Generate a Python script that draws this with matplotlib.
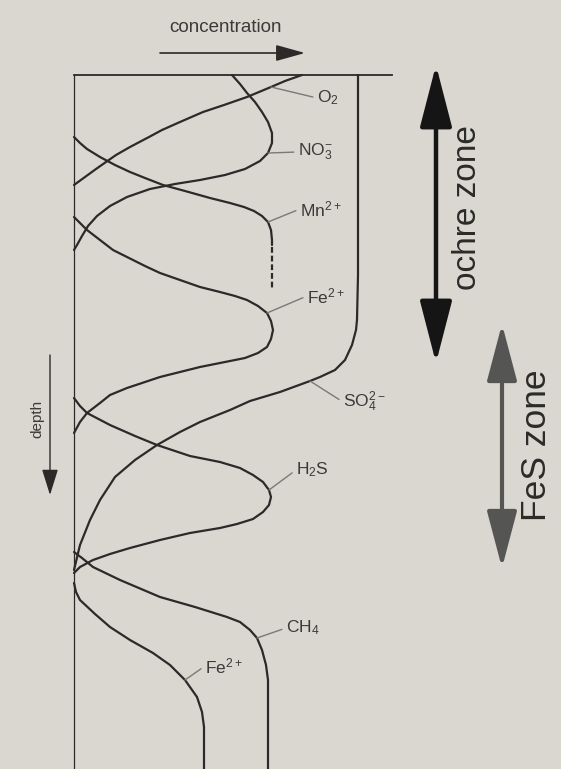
import matplotlib.pyplot as plt

plt.rcParams['font.family'] = ['Liberation Sans', 'DejaVu Sans']
plt.rcParams['mathtext.fontset'] = 'custom'
plt.rcParams['mathtext.rm'] = 'Liberation Sans'
plt.rcParams['mathtext.it'] = 'Liberation Sans:italic'

# concentration (to the right) and depth (downwards)
o2_c = [228, 211, 197, 173, 150, 129, 106, 88, 75, 56, 42, 32, 22, 11, 0]
o2_d = [0, 6, 12, 22, 30, 37, 47, 55, 62, 72, 80, 87, 94, 102, 110]

no3_c = [158, 166, 173, 181, 188, 194, 198, 198, 194, 186, 171, 151, 126, 101, 76, 53, 36, 23, 14, 8, 3, 0]
no3_d = [0, 9, 18, 27, 37, 47, 58, 68, 78, 86, 94, 100, 105, 109, 114, 122, 131, 141, 151, 161, 170, 175]

mn_c = [0, 6, 13, 26, 41, 56, 71, 89, 111, 136, 156, 170, 180, 188, 194, 197, 198, 198]
mn_d = [62, 68, 74, 82, 90, 97, 103, 110, 116, 123, 128, 132, 136, 141, 147, 155, 165, 170]
mn_dash_c = [198, 198]
mn_dash_d = [172, 213]

fe1_c = [0, 6, 13, 26, 39, 53, 71, 86, 106, 126, 146, 161, 173, 184, 193, 197, 199, 197, 193,
         184, 171, 156, 126, 86, 53, 36, 26, 13, 6, 0]
fe1_d = [142, 148, 155, 165, 175, 182, 191, 198, 205, 212, 217, 221, 225, 231, 238, 246, 255, 264, 272,
         278, 283, 286, 292, 302, 313, 320, 328, 338, 347, 358]

so4_c = [284, 284, 284, 283, 282, 278, 271, 261, 246, 236, 206, 176, 156, 126, 106, 83, 61, 41, 26, 16, 6, 0]
so4_d = [0, 100, 200, 245, 255, 270, 285, 295, 302, 306, 317, 326, 335, 347, 357, 370, 385, 402, 425, 445, 470, 495]

h2s_c = [0, 6, 13, 36, 61, 83, 116, 146, 166, 179, 189, 195, 197, 195, 189, 179, 163, 146, 116, 86, 56, 36, 19, 6, 0]
h2s_d = [323, 331, 338, 350, 361, 370, 381, 387, 393, 400, 407, 415, 422, 430, 437, 444, 449, 453, 458, 465,
         473, 479, 485, 492, 498]

ch4_c = [0, 8, 19, 46, 86, 121, 153, 166, 176, 183, 188, 192, 194, 194, 194]
ch4_d = [477, 483, 492, 505, 522, 532, 542, 547, 555, 563, 575, 590, 605, 625, 694]

fe2_c = [0, 2, 6, 21, 36, 56, 79, 96, 111, 123, 128, 130, 130]
fe2_d = [508, 517, 525, 539, 552, 565, 578, 590, 605, 622, 637, 652, 694]

ink = '#2b2a28'
bg = '#d9d7d0'

fig = plt.figure(figsize=(5.61, 7.69), dpi=100, facecolor=bg)
ax = fig.add_axes([0, 0, 1, 1])
ax.set_facecolor(bg)
ax.set_xlim(-74, 487)
ax.set_ylim(694, -75)
ax.axis('off')

# frame: sediment surface and zero-concentration wall
ax.plot([0, 318], [0, 0], color=ink, lw=1.3)
ax.plot([0, 0], [0, 694], color=ink, lw=0.9)

curves = [(o2_c, o2_d), (no3_c, no3_d), (mn_c, mn_d), (fe1_c, fe1_d),
          (so4_c, so4_d), (h2s_c, h2s_d), (ch4_c, ch4_d), (fe2_c, fe2_d)]
for c, d in curves:
    ax.plot(c, d, color=ink, lw=1.6, solid_capstyle='round', solid_joinstyle='round')
ax.plot(mn_dash_c, mn_dash_d, color=ink, lw=1.6, ls=(0, (2.6, 1.3)))

# labels with leader lines: (text, curve, point index, text position)
labels = [
    (r'O$_2$', o2_c, o2_d, 2, 243, 23),
    (r'NO$_3^{-}$', no3_c, no3_d, 8, 224, 77),
    (r'Mn$^{2+}$', mn_c, mn_d, 14, 226, 134),
    (r'Fe$^{2+}$', fe1_c, fe1_d, 14, 233, 221),
    (r'SO$_4^{2-}$', so4_c, so4_d, 9, 269, 327),
    (r'H$_2$S', h2s_c, h2s_d, 11, 222, 395),
    (r'CH$_4$', ch4_c, ch4_d, 9, 212, 553),
    (r'Fe$^{2+}$', fe2_c, fe2_d, 8, 131, 591),
]
for txt, c, d, i, tx, ty in labels:
    ax.annotate(txt, xy=(c[i], d[i]), xytext=(tx, ty), fontsize=12.5, color='#3a3a38',
                ha='left', va='center',
                arrowprops=dict(arrowstyle='-', color='#7a7975', lw=1.0,
                                shrinkA=1, shrinkB=0, relpos=(0, 0.5)))

# axis arrows
ax.annotate('', xy=(231, -22), xytext=(86, -22),
            arrowprops=dict(arrowstyle='-|>,head_length=1.8,head_width=0.5', mutation_scale=10,
                            color=ink, lw=1.2, shrinkA=0, shrinkB=0))
ax.text(152, -48, 'concentration', fontsize=13.5, color='#3a3a38', ha='center', va='center')

ax.annotate('', xy=(-24, 420), xytext=(-24, 280),
            arrowprops=dict(arrowstyle='-|>,head_length=1.6,head_width=0.5', mutation_scale=10,
                            color=ink, lw=1.0, shrinkA=0, shrinkB=0))
ax.text(-37, 344, 'depth', fontsize=11, color='#3a3a38', rotation=90, ha='center', va='center')

# zone arrows
ax.annotate('', xy=(362, 288), xytext=(362, -10),
            arrowprops=dict(arrowstyle='<|-|>,head_length=2.4,head_width=0.62', mutation_scale=16,
                            color='#151515', lw=3.2, shrinkA=0, shrinkB=0))
ax.text(394, 133, 'ochre zone', fontsize=24, color='#2a2a28', rotation=90, ha='center', va='center')

ax.annotate('', xy=(428, 493), xytext=(428, 249),
            arrowprops=dict(arrowstyle='<|-|>,head_length=2.2,head_width=0.58', mutation_scale=16,
                            color='#555553', lw=3.0, shrinkA=0, shrinkB=0))
ax.text(463, 370, 'FeS zone', fontsize=25.5, color='#2a2a28', rotation=90, ha='center', va='center')

fig.savefig('out.png', dpi=100, facecolor=bg)
